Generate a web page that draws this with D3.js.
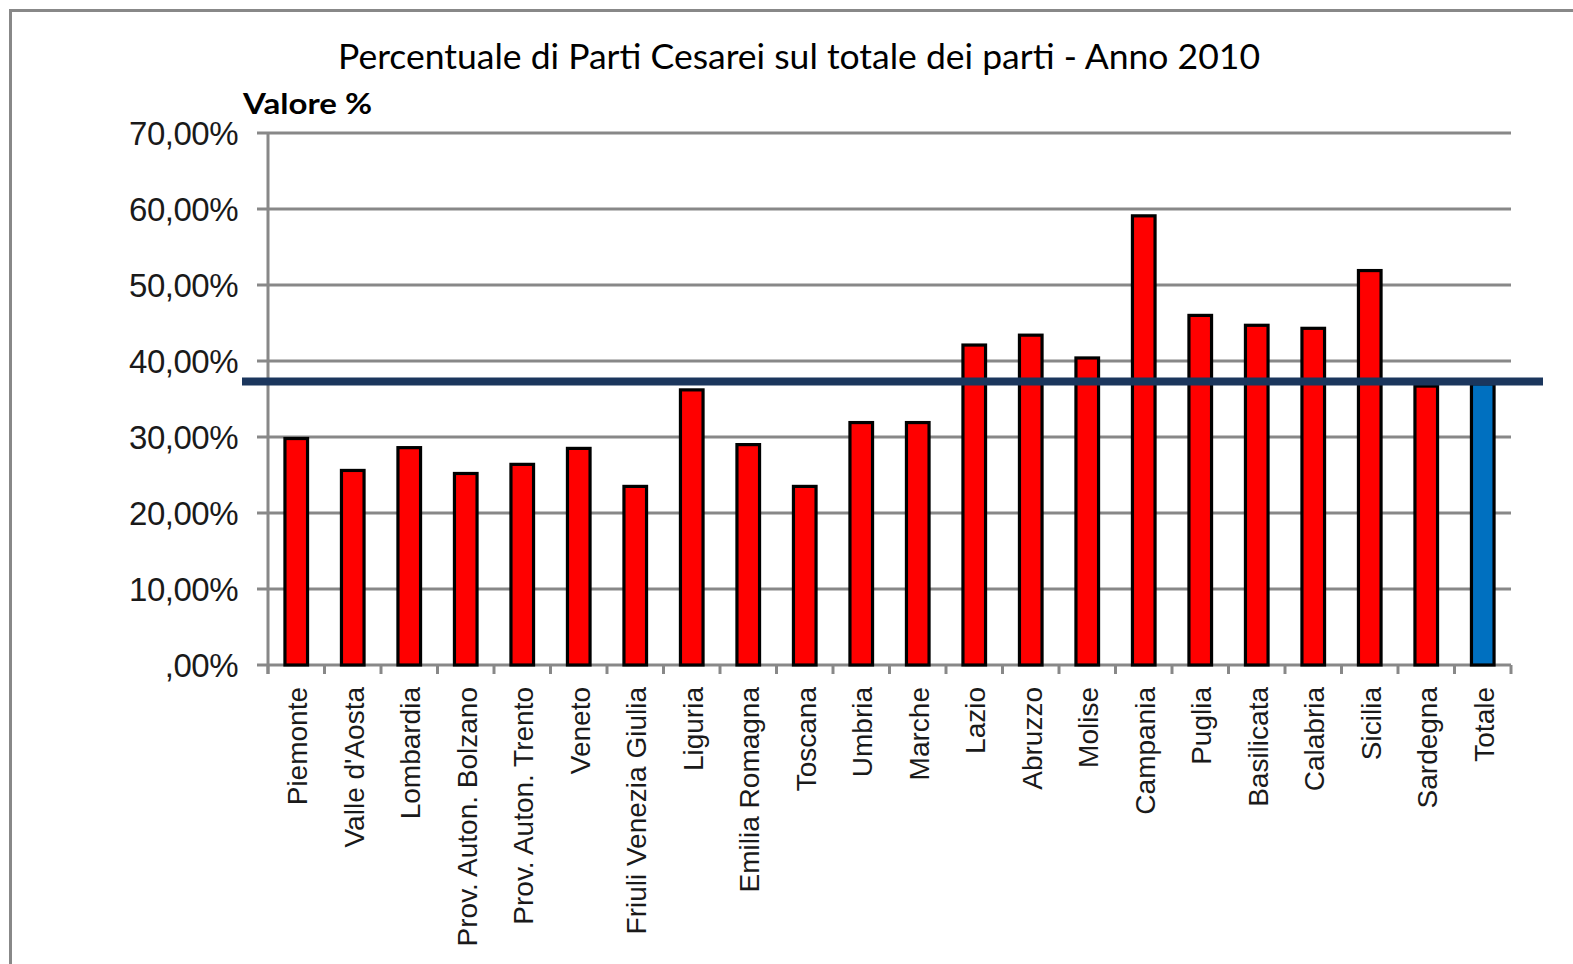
<!DOCTYPE html>
<html lang="it">
<head>
    <meta charset="UTF-8">
    <script src="https://d3js.org/d3.v7.min.js"></script>
    <title>Parti Cesarei 2010</title>
    <style>
        body { margin: 0; background: #fff; }
        svg { display: block; }
    </style>
</head>
<body>
    <script>
        // dati
        var regioni = ["Piemonte", "Valle d'Aosta", "Lombardia", "Prov. Auton. Bolzano", "Prov. Auton. Trento",
            "Veneto", "Friuli Venezia Giulia", "Liguria", "Emilia Romagna", "Toscana", "Umbria", "Marche",
            "Lazio", "Abruzzo", "Molise", "Campania", "Puglia", "Basilicata", "Calabria", "Sicilia",
            "Sardegna", "Totale"]
        var valori = [29.8, 25.6, 28.6, 25.2, 26.4, 28.5, 23.5, 36.2, 29.0, 23.5, 31.9, 31.9,
            42.1, 43.4, 40.4, 59.1, 46.0, 44.7, 44.3, 51.9, 36.7, 37.0]
        var mediaNazionale = [37.3]
        var yTicks = [0, 10, 20, 30, 40, 50, 60, 70]
        var yTickLabels = [",00%", "10,00%", "20,00%", "30,00%", "40,00%", "50,00%", "60,00%", "70,00%"]

        var width = 1573
        var height = 964
        var plot = { left: 268, right: 1511, top: 133, bottom: 665 }

        var svg = d3.select("body")
            .append("svg")
            .attr("width", width)
            .attr("height", height)

        // cornice
        svg.append("rect")
            .attr("x", 10.5).attr("y", 10.5)
            .attr("width", 1700).attr("height", 1100)
            .attr("fill", "none")
            .attr("stroke", "#888")
            .attr("stroke-width", 3)

        var y = d3.scaleLinear()
            .domain([0, 70])
            .range([plot.bottom, plot.top])

        var x = d3.scaleBand()
            .domain(regioni)
            .range([plot.left, plot.right])
            .paddingInner(0.6)
            .paddingOuter(0.3)

        var xb = d3.scaleBand()
            .domain(regioni)
            .range([plot.left, plot.right])
            .padding(0)

        // griglia
        svg.selectAll(".grid")
            .data(yTicks)
            .enter()
            .append("line")
            .attr("class", "grid")
            .attr("x1", plot.left - 11)
            .attr("x2", plot.right)
            .attr("y1", function (d) { return y(d) })
            .attr("y2", function (d) { return y(d) })
            .attr("stroke", "#888")
            .attr("stroke-width", 3)

        // asse y
        svg.append("line")
            .attr("x1", plot.left).attr("x2", plot.left)
            .attr("y1", plot.top).attr("y2", plot.bottom + 9)
            .attr("stroke", "#888").attr("stroke-width", 3)

        // tacche asse x
        var tickX = regioni.map(function (d) { return xb(d) }).concat([plot.right])
        svg.selectAll(".xtick")
            .data(tickX)
            .enter()
            .append("line")
            .attr("class", "xtick")
            .attr("x1", function (d) { return d })
            .attr("x2", function (d) { return d })
            .attr("y1", plot.bottom)
            .attr("y2", plot.bottom + 9)
            .attr("stroke", "#888")
            .attr("stroke-width", 3)

        // etichette y
        svg.selectAll(".ylab")
            .data(yTicks)
            .enter()
            .append("text")
            .attr("class", "ylab")
            .attr("x", 238)
            .attr("y", function (d) { return y(d) })
            .attr("dy", "0.36em")
            .attr("text-anchor", "end")
            .attr("font-family", "'Liberation Sans', Arial, sans-serif")
            .attr("font-size", "33px")
            .attr("letter-spacing", "-0.5px")
            .attr("fill", "#1a1a1a")
            .text(function (d, i) { return yTickLabels[i] })

        // barre
        svg.selectAll(".bar")
            .data(valori)
            .enter()
            .append("rect")
            .attr("class", "bar")
            .attr("x", function (d, i) { return x(regioni[i]) })
            .attr("y", function (d) { return y(d) })
            .attr("width", x.bandwidth())
            .attr("height", function (d) { return y(0) - y(d) })
            .attr("fill", function (d, i) { return regioni[i] === "Totale" ? "#0070c0" : "#ff0000" })
            .attr("stroke", "#000")
            .attr("stroke-width", 3.2)

        // linea del totale
        svg.selectAll(".media")
            .data(mediaNazionale)
            .enter()
            .append("line")
            .attr("class", "media")
            .attr("x1", 242)
            .attr("x2", 1543)
            .attr("y1", function (d) { return y(d) })
            .attr("y2", function (d) { return y(d) })
            .attr("stroke", "#1b365d")
            .attr("stroke-width", 8)

        // etichette x ruotate
        svg.selectAll(".xlab")
            .data(regioni)
            .enter()
            .append("text")
            .attr("class", "xlab")
            .attr("transform", function (d) {
                return "translate(" + (x(d) + x.bandwidth() / 2 + 1) + "," + (plot.bottom + 22) + ") rotate(-90)"
            })
            .attr("dy", "0.36em")
            .attr("text-anchor", "end")
            .attr("font-family", "'Liberation Sans', Arial, sans-serif")
            .attr("font-size", "28px")
            .attr("fill", "#1a1a1a")
            .text(function (d) { return d })

        // titolo
        svg.append("text")
            .attr("x", 799)
            .attr("y", 69)
            .attr("text-anchor", "middle")
            .attr("font-family", "Lato, 'Open Sans', sans-serif")
            .attr("font-size", "34px")
            .attr("textLength", 922)
            .attr("lengthAdjust", "spacingAndGlyphs")
            .attr("fill", "#000")
            .text("Percentuale di Parti Cesarei sul totale dei parti - Anno 2010")

        svg.append("text")
            .attr("x", 243)
            .attr("y", 114)
            .attr("font-family", "Lato, 'Open Sans', sans-serif")
            .attr("font-weight", "bold")
            .attr("font-size", "28px")
            .attr("textLength", 129)
            .attr("lengthAdjust", "spacingAndGlyphs")
            .attr("fill", "#000")
            .text("Valore %")
    </script>
</body>
</html>
